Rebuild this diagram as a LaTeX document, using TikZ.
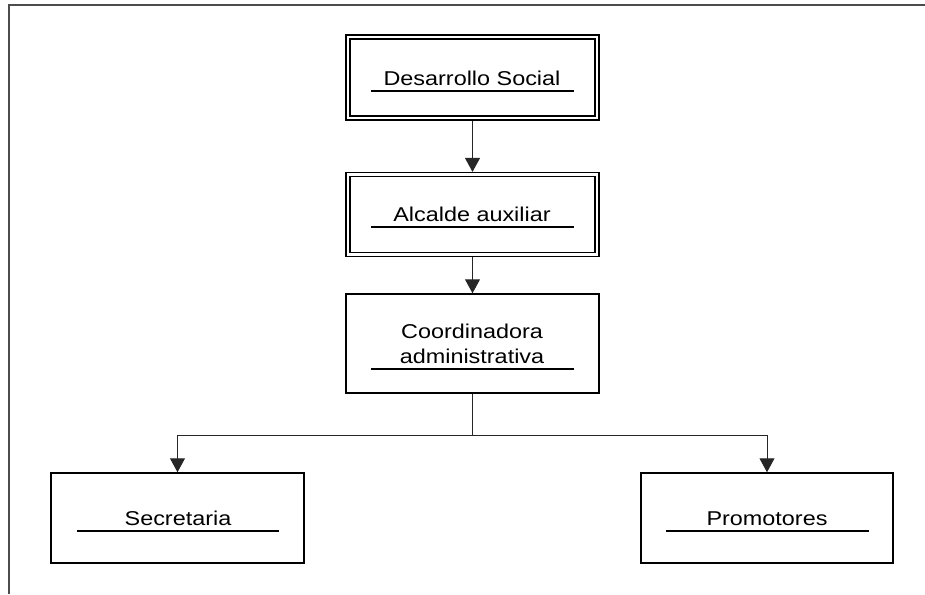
\documentclass[tikz,border=0pt]{standalone}
\usepackage{fontspec}
\setmainfont{Liberation Sans}[FakeStretch=1.17]
\usetikzlibrary{arrows.meta,calc}
\begin{document}
\begin{tikzpicture}[x=1pt,y=-1pt,
  dbox/.style={draw, line width=1.2pt, double, double distance=2.8pt, minimum width=249pt, minimum height=81pt, inner sep=0pt, outer sep=2.6pt},
  sbox/.style={draw, line width=1.5pt, minimum width=253pt, minimum height=90pt, inner sep=0pt, outer sep=0.75pt},
  lbl/.style={anchor=base, inner sep=0pt, font=\fontsize{20}{25}\selectfont},
  uline/.style={line width=1.5pt},
  conn/.style={line width=1pt, draw=black!85},
  arr/.style={conn, -{Triangle[length=14pt,width=15pt]}},
  framel/.style={line width=1.3pt, draw=black!70}]
\useasboundingbox (0,0) rectangle (925,594);
\draw[framel] (9,594) -- (9,5) -- (925,5);
% boxes
\node[dbox] (ds) at (472.5,77.5) {};
\node[dbox, minimum height=80pt] (aa) at (472.5,214.5) {};
\node[sbox, minimum height=99pt] (ca) at (472.5,343.5) {};
\node[sbox] (sec) at (177.5,518) {};
\node[sbox, minimum width=252pt] (pro) at (767,518) {};
% labels
\node[lbl] (dst) at (472,85) {Desarrollo Social};
\draw[uline] (371,91) -- (574,91);
\node[lbl] (aat) at (472,221) {Alcalde auxiliar};
\draw[uline] (371,227) -- (574,227);
\node[lbl] (cat1) at (472,338) {Coordinadora};
\node[lbl] (cat2) at (472,363) {administrativa};
\draw[uline] (371,369) -- (574,369);
\node[lbl] (sect) at (178,525) {Secretaria};
\draw[uline] (77,531) -- (279,531);
\node[lbl] (prot) at (767,525) {Promotores};
\draw[uline] (666,531) -- (869,531);
% connectors
\draw[arr] (ds.south) -- (aa.north);
\draw[arr] (aa.south) -- (ca.north);
\coordinate (split) at (472.5,435);
\draw[conn] (ca.south) -- (split);
\draw[arr] (split) -| (sec.north);
\draw[arr] (split) -| (pro.north);
\end{tikzpicture}
\end{document}
